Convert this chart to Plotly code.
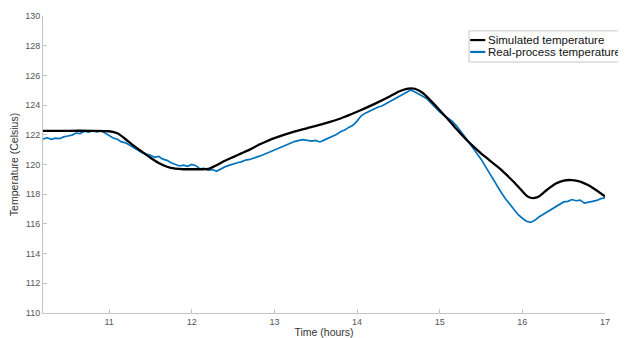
import plotly.graph_objects as go

# ---- data ----
sim_time = [10.2, 10.5, 10.8, 11.0, 11.1, 11.2, 11.3, 11.4, 11.5, 11.6, 11.7, 11.8, 11.9,
            12.0, 12.1, 12.2, 12.3, 12.4, 12.5, 12.6, 12.7, 12.8, 12.9, 13.0, 13.2, 13.4,
            13.6, 13.8, 14.0, 14.2, 14.4, 14.5, 14.6, 14.65, 14.7, 14.8, 14.9, 15.0, 15.1,
            15.2, 15.3, 15.4, 15.5, 15.6, 15.7, 15.8, 15.9, 16.0, 16.05, 16.1, 16.15, 16.2,
            16.3, 16.4, 16.5, 16.6, 16.7, 16.8, 16.9, 17.0]
sim_temp = [122.27, 122.27, 122.27, 122.24, 122.1, 121.7, 121.25, 120.85, 120.45, 120.1,
            119.85, 119.72, 119.68, 119.68, 119.68, 119.7, 119.95, 120.25, 120.5, 120.75,
            121.0, 121.3, 121.55, 121.78, 122.15, 122.45, 122.75, 123.1, 123.55, 124.05,
            124.6, 124.9, 125.1, 125.13, 125.1, 124.8, 124.25, 123.65, 123.05, 122.4, 121.8,
            121.25, 120.75, 120.3, 119.85, 119.35, 118.8, 118.2, 117.9, 117.76, 117.75,
            117.85, 118.3, 118.7, 118.92, 118.95, 118.85, 118.6, 118.25, 117.85]

real_time = [10.20, 10.25, 10.30, 10.35, 10.40, 10.45, 10.50, 10.55, 10.60, 10.65, 10.70,
             10.75, 10.80, 10.85, 10.90, 10.95, 11.00, 11.05, 11.10, 11.15, 11.20, 11.25,
             11.30, 11.35, 11.40, 11.45, 11.50, 11.55, 11.60, 11.65, 11.70, 11.75, 11.80,
             11.85, 11.90, 11.95, 12.00, 12.05, 12.10, 12.15, 12.20, 12.25, 12.30, 12.35,
             12.40, 12.45, 12.50, 12.55, 12.60, 12.65, 12.70, 12.75, 12.80, 12.85, 12.90,
             12.95, 13.00, 13.05, 13.10, 13.15, 13.20, 13.25, 13.30, 13.35, 13.40, 13.45,
             13.50, 13.55, 13.60, 13.65, 13.70, 13.75, 13.80, 13.85, 13.90, 13.95, 14.00,
             14.05, 14.10, 14.15, 14.20, 14.25, 14.30, 14.35, 14.40, 14.45, 14.50, 14.55,
             14.60, 14.65, 14.70, 14.75, 14.80, 14.85, 14.90, 14.95, 15.00, 15.05, 15.10,
             15.15, 15.20, 15.25, 15.30, 15.35, 15.40, 15.45, 15.50, 15.55, 15.60, 15.65,
             15.70, 15.75, 15.80, 15.85, 15.90, 15.95, 16.00, 16.05, 16.10, 16.15, 16.20,
             16.25, 16.30, 16.35, 16.40, 16.45, 16.50, 16.55, 16.60, 16.65, 16.70, 16.75,
             16.80, 16.85, 16.90, 16.95, 17.00]
real_temp = [121.72, 121.80, 121.70, 121.78, 121.74, 121.86, 121.92, 121.98, 122.12, 122.08,
             122.24, 122.18, 122.26, 122.20, 122.28, 122.12, 121.96, 121.78, 121.70, 121.52,
             121.46, 121.30, 121.16, 120.98, 120.80, 120.70, 120.62, 120.48, 120.54, 120.36,
             120.28, 120.12, 120.02, 119.90, 119.96, 119.88, 120.00, 119.92, 119.70, 119.74,
             119.62, 119.66, 119.54, 119.72, 119.84, 119.94, 120.04, 120.12, 120.18, 120.30,
             120.34, 120.42, 120.50, 120.62, 120.74, 120.86, 120.98, 121.08, 121.22, 121.34,
             121.44, 121.56, 121.62, 121.68, 121.62, 121.58, 121.62, 121.52, 121.64, 121.76,
             121.88, 122.02, 122.20, 122.32, 122.50, 122.64, 122.92, 123.28, 123.46, 123.60,
             123.72, 123.86, 123.94, 124.10, 124.22, 124.38, 124.56, 124.70, 124.88, 125.02,
             124.88, 124.74, 124.58, 124.40, 124.12, 123.78, 123.54, 123.32, 123.14, 122.92,
             122.62, 122.28, 121.90, 121.52, 121.10, 120.74, 120.36, 119.90, 119.44, 118.96,
             118.48, 118.06, 117.66, 117.30, 116.96, 116.62, 116.38, 116.18, 116.10, 116.24,
             116.46, 116.62, 116.80, 116.96, 117.14, 117.32, 117.48, 117.52, 117.64, 117.56,
             117.60, 117.40, 117.44, 117.52, 117.58, 117.70, 117.76]

x_ticks = [11, 12, 13, 14, 15, 16, 17]
y_ticks = [110, 112, 114, 116, 118, 120, 122, 124, 126, 128, 130]
series_names = ["Simulated temperature", "Real-process temperature"]
series_colors = ["#000000", "#0072BD"]

FONT = "Liberation Sans, Arial, sans-serif"

fig = go.Figure()
fig.add_trace(go.Scatter(x=real_time, y=real_temp, mode="lines", name=series_names[1],
                         line=dict(color=series_colors[1], width=1.7)))
fig.add_trace(go.Scatter(x=sim_time, y=sim_temp, mode="lines", name=series_names[0],
                         line=dict(color=series_colors[0], width=2.3, shape="spline", smoothing=0.6)))

axis_common = dict(showline=True, linecolor="#c4c4c4", linewidth=1, ticks="inside",
                   ticklen=4, tickcolor="#c4c4c4", showgrid=False, zeroline=False,
                   tickfont=dict(family=FONT, size=9, color="#555555"))

fig.update_xaxes(range=[10.2, 17], tickvals=x_ticks, ticktext=[str(t) for t in x_ticks],
                 title=dict(text="Time (hours)", font=dict(family=FONT, size=10.5, color="#333333"),
                            standoff=4),
                 **axis_common)
fig.update_yaxes(range=[110, 130], tickvals=y_ticks, ticktext=[str(t) for t in y_ticks],
                 title=dict(text="Temperature (Celsius)", font=dict(family=FONT, size=10.5, color="#333333"),
                            standoff=4),
                 **axis_common)

# manual legend (box, line samples, labels)
L, T, R, B = 0.758, 0.950, 1.045, 0.845
fig.add_shape(type="rect", xref="paper", yref="paper", x0=L, x1=R, y0=B, y1=T,
              line=dict(color="#c8c8c8", width=1), fillcolor="white", layer="above")
rows_y = [0.919, 0.879]
for name, color, yy in zip(series_names, series_colors, rows_y):
    fig.add_shape(type="line", xref="paper", yref="paper", x0=0.760, x1=0.787, y0=yy, y1=yy,
                  line=dict(color=color, width=2.2), layer="above")
    fig.add_annotation(xref="paper", yref="paper", x=0.789, y=yy, text=name, showarrow=False,
                       xanchor="left", yanchor="middle",
                       font=dict(family=FONT, size=11.5, color="#111111"))

# page body adds an 8px offset, so the figure is 8px smaller than the window
fig.update_layout(width=618, height=330, showlegend=False,
                  paper_bgcolor="white", plot_bgcolor="white",
                  margin=dict(l=35, r=21, t=8, b=25, autoexpand=False))

fig.write_html("out.html")
